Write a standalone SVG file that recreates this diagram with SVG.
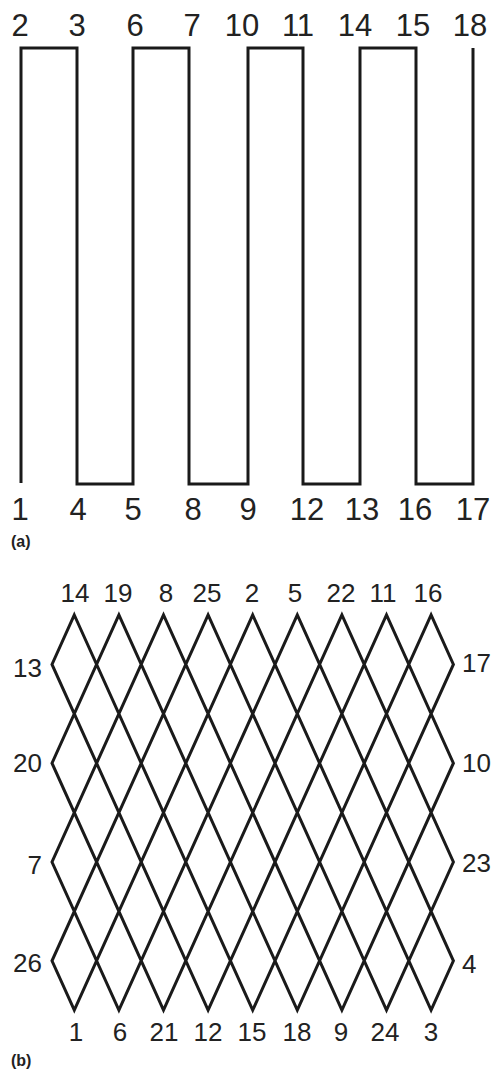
<svg xmlns="http://www.w3.org/2000/svg" width="495" height="1071" viewBox="0 0 495 1071">
<style>
.wire{fill:none;stroke:#1a1a1a;stroke-width:3;stroke-linejoin:miter;stroke-miterlimit:10}
.la{font-family:"Liberation Sans",Arial,sans-serif;font-size:31px;fill:#222;text-anchor:middle}
.lb{font-family:"Liberation Sans",Arial,sans-serif;font-size:26px;fill:#222;text-anchor:middle}
.lbl{font-family:"Liberation Sans",Arial,sans-serif;font-size:26px;fill:#222;text-anchor:end}
.lbr{font-family:"Liberation Sans",Arial,sans-serif;font-size:26px;fill:#222;text-anchor:start}
.cap{font-family:"Liberation Sans",Arial,sans-serif;font-size:16px;font-weight:bold;fill:#222}
</style>
<rect width="495" height="1071" fill="#fff"/>
<g id="connectors">
<path id="wire-a" class="wire" d="M21,483 V48 H77 V484 H133 V48 H189 V484 H248 V48 H303 V484 H360 V48 H416 V484 H473 V48"/>
<path id="wire-b" class="wire" d="M74.3,615 L252.7,1010.2 L431.1,615 L453.4,664.4 L297.3,1010.2 L118.9,615 L52,763.2 L163.5,1010.2 L341.9,615 L453.4,862 L386.5,1010.2 L208.1,615 L52,960.8 L74.3,1010.2 L252.7,615 L431.1,1010.2 L453.4,960.8 L297.3,615 L118.9,1010.2 L52,862 L163.5,615 L341.9,1010.2 L453.4,763.2 L386.5,615 L208.1,1010.2 L52,664.4 Z"/>
</g>
<g id="labels-a-top">
<text class="la" x="20" y="36">2</text>
<text class="la" x="77" y="36">3</text>
<text class="la" x="135" y="36">6</text>
<text class="la" x="192" y="36">7</text>
<text class="la" x="242" y="36">10</text>
<text class="la" x="298" y="36">11</text>
<text class="la" x="355" y="36">14</text>
<text class="la" x="413" y="36">15</text>
<text class="la" x="470" y="36">18</text>
</g>
<g id="labels-a-bottom">
<text class="la" x="20" y="520">1</text>
<text class="la" x="78" y="520">4</text>
<text class="la" x="133" y="520">5</text>
<text class="la" x="193" y="520">8</text>
<text class="la" x="248" y="520">9</text>
<text class="la" x="307" y="520">12</text>
<text class="la" x="362" y="520">13</text>
<text class="la" x="415" y="520">16</text>
<text class="la" x="473" y="520">17</text>
</g>
<text id="cap-a" class="cap" x="11" y="547">(a)</text>
<g id="labels-b-top">
<text class="lb" x="75" y="602">14</text>
<text class="lb" x="118" y="602">19</text>
<text class="lb" x="166" y="602">8</text>
<text class="lb" x="207" y="602">25</text>
<text class="lb" x="252" y="602">2</text>
<text class="lb" x="295" y="602">5</text>
<text class="lb" x="341" y="602">22</text>
<text class="lb" x="383" y="602">11</text>
<text class="lb" x="428" y="602">16</text>
</g>
<g id="labels-b-left">
<text class="lbl" x="42" y="677">13</text>
<text class="lbl" x="42" y="772">20</text>
<text class="lbl" x="42" y="874">7</text>
<text class="lbl" x="42" y="972">26</text>
</g>
<g id="labels-b-right">
<text class="lbr" x="462" y="672">17</text>
<text class="lbr" x="462" y="772">10</text>
<text class="lbr" x="462" y="872">23</text>
<text class="lbr" x="462" y="973">4</text>
</g>
<g id="labels-b-bottom">
<text class="lb" x="76" y="1041">1</text>
<text class="lb" x="120" y="1041">6</text>
<text class="lb" x="164" y="1041">21</text>
<text class="lb" x="208" y="1041">12</text>
<text class="lb" x="252" y="1041">15</text>
<text class="lb" x="297" y="1041">18</text>
<text class="lb" x="341" y="1041">9</text>
<text class="lb" x="385" y="1041">24</text>
<text class="lb" x="431" y="1041">3</text>
</g>
<text id="cap-b" class="cap" x="11" y="1066">(b)</text>
</svg>
